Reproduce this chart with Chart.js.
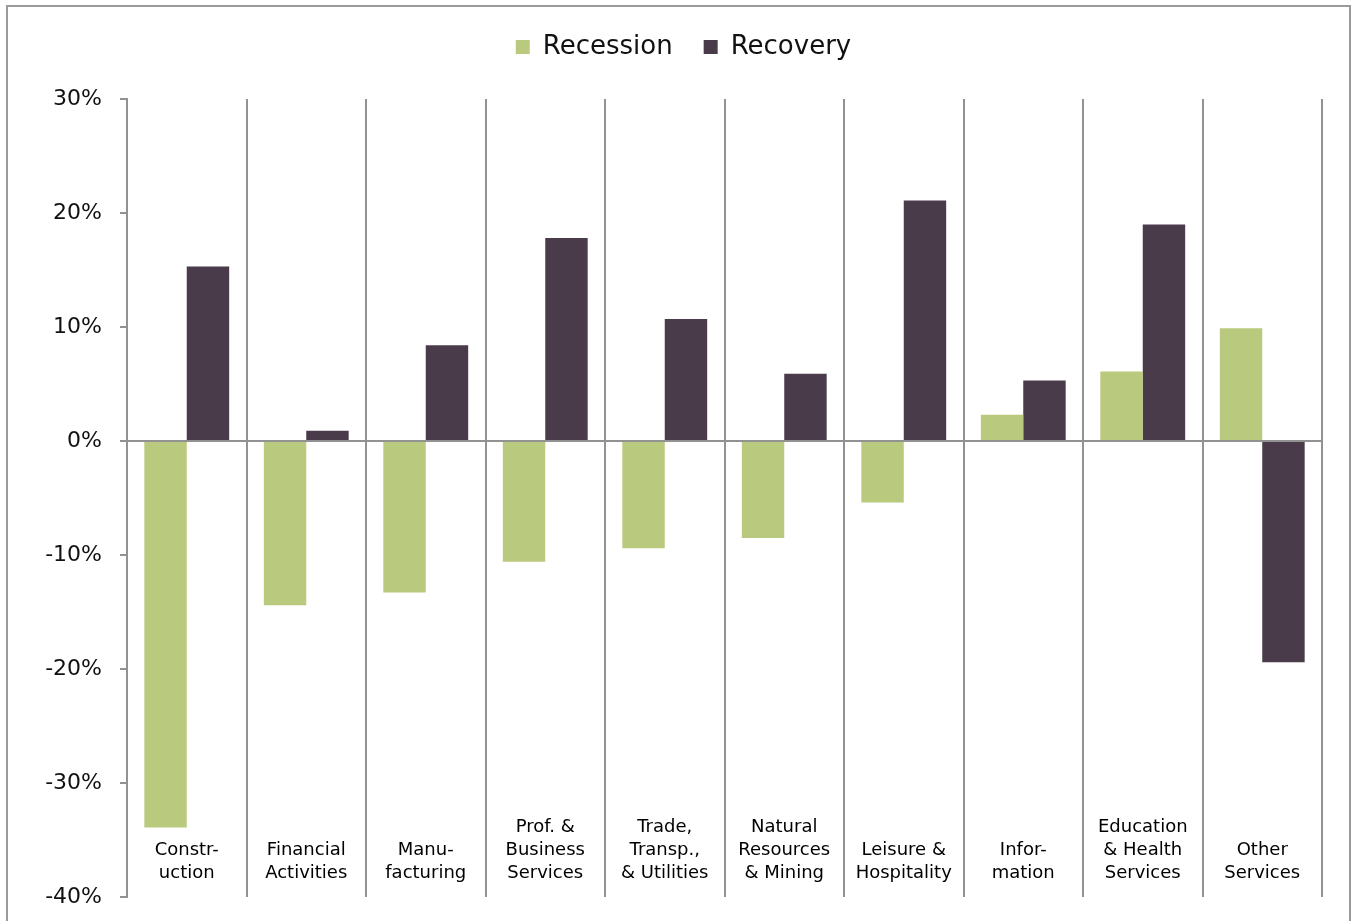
<!DOCTYPE html>
<html>
<head>
<meta charset="utf-8">
<title>Employment change by sector</title>
<script src="https://cdn.jsdelivr.net/npm/chart.js@4.4.1/dist/chart.umd.min.js"></script>
<style>
    html, body { margin: 0; padding: 0; background: #fff; overflow: hidden; }
    #wrap { position: relative; width: 1351px; height: 921px; overflow: hidden; }
    #frame {
        position: absolute; left: 6px; top: 5px; width: 1341px; height: 960px;
        border: 2px solid #9a9a9a; pointer-events: none;
    }
    canvas { position: absolute; left: 0; top: 0; }
</style>
</head>
<body>
<div id="wrap">
    <canvas id="chart" width="1351" height="929"></canvas>
    <div id="frame"></div>
</div>
<script>
// Sectors (x axis labels, split over lines like the original;
// a leading '' keeps the two-line labels bottom aligned)
const sectors = [
    ['', 'Constr-', 'uction'],
    ['', 'Financial', 'Activities'],
    ['', 'Manu-', 'facturing'],
    ['Prof. &', 'Business', 'Services'],
    ['Trade,', 'Transp.,', '& Utilities'],
    ['Natural', 'Resources', '& Mining'],
    ['', 'Leisure &', 'Hospitality'],
    ['', 'Infor-', 'mation'],
    ['Education', '& Health', 'Services'],
    ['', 'Other', 'Services']
];

// Percent change in employment
const recession = [-33.9, -14.4, -13.3, -10.6, -9.4, -8.5, -5.4, 2.3, 6.1, 9.9];
const recovery = [15.3, 0.9, 8.4, 17.8, 10.7, 5.9, 21.1, 5.3, 19.0, -19.4];

// Y axis range
const yMin = -40;
const yMax = 30;
const yStep = 10;

const gridGray = '#929292';

// Extra space under the legend
const legendMargin = {
    id: 'legendMargin',
    beforeInit(chart) {
        const origFit = chart.legend.fit;
        chart.legend.fit = function () {
            origFit.bind(chart.legend)();
            this.height += 29;
        };
    }
};

new Chart(document.getElementById('chart').getContext('2d'), {
    type: 'bar',
    data: {
        labels: sectors,
        datasets: [{
            label: 'Recession',
            backgroundColor: '#b9c97d',
            data: recession
        }, {
            label: 'Recovery',
            backgroundColor: '#493b4a',
            data: recovery
        }]
    },
    options: {
        responsive: false,
        animation: false,
        layout: {
            padding: { top: 3, left: 45, right: 29, bottom: 0 }
        },
        datasets: {
            bar: {
                categoryPercentage: 0.71,
                barPercentage: 1.0,
                borderWidth: 0
            }
        },
        plugins: {
            tooltip: { enabled: false },
            legend: {
                position: 'top',
                labels: {
                    boxWidth: 14,
                    boxHeight: 14,
                    padding: 31,
                    color: '#111',
                    font: { family: 'DejaVu Sans', size: 26 }
                }
            }
        },
        scales: {
            x: {
                grid: {
                    offset: true,
                    color: gridGray,
                    lineWidth: 2,
                    drawTicks: false
                },
                border: { display: false },
                ticks: {
                    autoSkip: false,
                    maxRotation: 0,
                    mirror: true,   // draw the sector names inside the plot, above the axis
                    padding: 58,
                    color: '#000',
                    font: { family: 'DejaVu Sans', size: 18, lineHeight: 1.27 }
                },
                afterFit(scale) {
                    scale.height = 32;
                    scale.paddingLeft = 0;
                    scale.paddingRight = 0;
                }
            },
            y: {
                min: yMin,
                max: yMax,
                grid: {
                    color: ctx => (ctx.tick && ctx.tick.value === 0) ? gridGray : 'rgba(0,0,0,0)',
                    lineWidth: 2,
                    tickColor: gridGray,
                    tickLength: 7
                },
                border: { color: gridGray, width: 2 },
                ticks: {
                    stepSize: yStep,
                    padding: 18,
                    color: '#111',
                    font: { family: 'DejaVu Sans', size: 22 },
                    callback: value => value + '%'
                },
                afterFit(scale) {
                    scale.width = 82;
                }
            }
        }
    },
    plugins: [legendMargin]
});
</script>
</body>
</html>
